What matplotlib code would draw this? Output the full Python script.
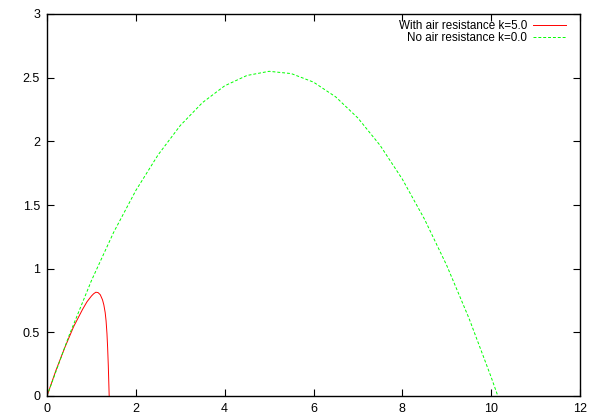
import matplotlib
matplotlib.use("Agg")
import matplotlib.pyplot as plt

plt.rcParams['font.family'] = ['Liberation Sans', 'DejaVu Sans']

# With air resistance k=5.0
air_x = [0, 0.2, 0.4, 0.6, 0.8, 0.9, 1.0, 1.05, 1.1, 1.15, 1.2, 1.25, 1.28, 1.31,
         1.33, 1.35, 1.365, 1.38, 1.39, 1.40]
air_y = [0, 0.20, 0.38, 0.545, 0.68, 0.74, 0.785, 0.803, 0.815, 0.812, 0.795, 0.755,
         0.715, 0.655, 0.59, 0.49, 0.38, 0.24, 0.12, 0.0]

# No air resistance k=0.0
noair_x = [0, 0.5, 1.0, 1.5, 2.0, 2.5, 3.0, 3.5, 4.0, 4.5, 5.0, 5.5, 6.0, 6.5,
           7.0, 7.5, 8.0, 8.5, 9.0, 9.5, 10.0, 10.15]
noair_y = [0, 0.478, 0.906, 1.285, 1.614, 1.893, 2.124, 2.304, 2.436, 2.517, 2.550,
           2.532, 2.465, 2.349, 2.183, 1.968, 1.703, 1.388, 1.025, 0.611, 0.148, 0.0]

xticks = [0, 2, 4, 6, 8, 10, 12]
yticks = [0, 0.5, 1, 1.5, 2, 2.5, 3]
ytick_labels = ['0', '0.5', '1', '1.5', '2', '2.5', '3']

fig = plt.figure(figsize=(6, 4.2), dpi=100)
ax = fig.add_axes([47 / 600, (420 - 396) / 420, (580 - 47) / 600, (396 - 14) / 420])

ax.plot(air_x, air_y, color='#ff0000', lw=0.7, label='With air resistance k=5.0')
ax.plot(noair_x, noair_y, color='#00ff00', lw=0.7, ls=(0, (3, 2)),
        label='No air resistance k=0.0')

ax.set_xlim(0, 12)
ax.set_ylim(0, 3)
ax.set_xticks(xticks)
ax.set_xticklabels([str(t) for t in xticks])
ax.set_yticks(yticks)
ax.set_yticklabels(ytick_labels)
ax.tick_params(direction='in', top=True, right=True, length=5, width=0.8,
               labelsize=9, pad=5)
for s in ax.spines.values():
    s.set_linewidth(1.0)

leg = ax.legend(loc='upper right', bbox_to_anchor=(0.9737, 0.984), frameon=False,
                fontsize=8.4, markerfirst=False, handlelength=2.83,
                handletextpad=0.5, borderaxespad=0, borderpad=0,
                labelspacing=0.03)
for t in leg.get_texts():
    t.set_ha('right')
leg._legend_box.align = 'right'

fig.savefig('out.png', dpi=100)
